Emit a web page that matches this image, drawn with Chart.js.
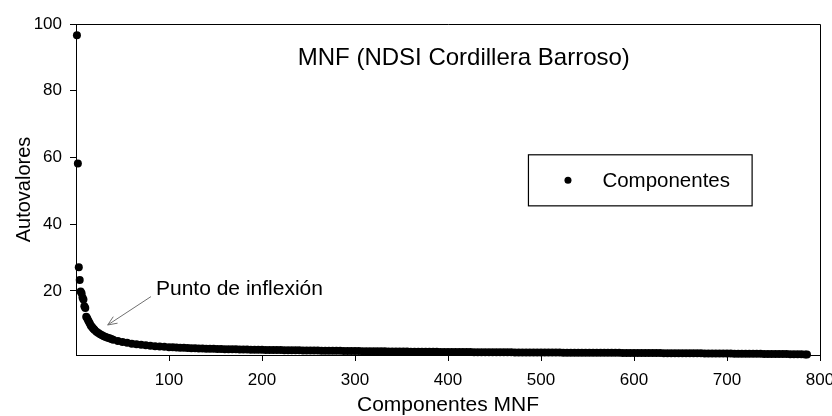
<!DOCTYPE html>
<html>
<head>
<meta charset="utf-8">
<script src="https://cdn.jsdelivr.net/npm/chart.js@4.4.1/dist/chart.umd.min.js"></script>
<style>
  html,body{margin:0;padding:0;background:#fff;}
  #wrap{width:832px;height:416px;}
</style>
</head>
<body>
<div id="wrap"><canvas id="mnfChart" width="832" height="416"></canvas></div>
<script>
// MNF eigenvalues - numero de componente (x) y autovalor (y)
const componentes = [
  1,2,3,4,5,6,7,8,9,10,11,12,13,14,15,16,17,18,19,20,
  22,24,26,28,30,32,34,36,38,40,45,50,55,60,65,70,75,80,85,90,95,100,
  104,108,112,116,120,124,128,132,136,140,144,148,152,156,160,164,168,172,176,180,
  184,188,192,196,200,204,208,212,216,220,224,228,232,236,240,244,248,252,256,260,
  264,268,272,276,280,284,288,292,296,300,304,308,312,316,320,324,328,332,336,340,
  344,348,352,356,360,364,368,372,376,380,384,388,392,396,400,404,408,412,416,420,
  424,428,432,436,440,444,448,452,456,460,464,468,472,476,480,484,488,492,496,500,
  504,508,512,516,520,524,528,532,536,540,544,548,552,556,560,564,568,572,576,580,
  584,588,592,596,600,604,608,612,616,620,624,628,632,636,640,644,648,652,656,660,
  664,668,672,676,680,684,688,692,696,700,704,708,712,716,720,724,728,732,736,740,
  744,748,752,756,760,764,768,772,776,780,784,786
];
const autovalores = [
  96.6,58.2,27.1,23.3,19.8,19.3,18.0,17.4,15.4,14.9,12.3,11.8,11.2,10.7,10.2,9.6,9.3,8.9,8.6,8.3,
  7.8,7.4,7.0,6.7,6.4,6.2,6.0,5.8,5.6,5.4,5.0,4.7,4.45,4.2,4.0,3.85,3.7,3.55,3.45,3.35,3.25,3.15,
  3.10,3.05,3.00,2.95,2.90,2.86,2.82,2.78,2.74,2.70,2.67,2.64,2.61,2.58,2.55,2.53,2.51,2.49,2.47,2.45,
  2.43,2.41,2.39,2.37,2.35,2.33,2.32,2.30,2.29,2.27,2.26,2.24,2.23,2.21,2.20,2.18,2.17,2.15,2.14,2.12,
  2.11,2.09,2.08,2.07,2.05,2.04,2.02,2.01,2.00,1.98,1.97,1.96,1.95,1.93,1.92,1.91,1.90,1.89,1.88,1.86,
  1.85,1.84,1.83,1.82,1.81,1.80,1.79,1.78,1.77,1.76,1.75,1.74,1.73,1.72,1.72,1.71,1.70,1.69,1.68,1.67,
  1.67,1.66,1.65,1.64,1.64,1.63,1.62,1.62,1.61,1.60,1.60,1.59,1.58,1.58,1.57,1.57,1.56,1.55,1.55,1.54,
  1.54,1.53,1.53,1.52,1.52,1.51,1.51,1.50,1.50,1.49,1.49,1.48,1.48,1.47,1.47,1.46,1.46,1.45,1.45,1.44,
  1.44,1.43,1.43,1.42,1.42,1.41,1.40,1.40,1.39,1.38,1.38,1.37,1.36,1.36,1.35,1.34,1.33,1.33,1.32,1.31,
  1.30,1.30,1.29,1.28,1.27,1.27,1.26,1.25,1.24,1.23,1.22,1.21,1.20,1.19,1.18,1.17,1.16,1.15,1.14,1.13,
  1.12,1.11,1.10,1.09,1.08,1.07,1.06,1.05,1.03,1.01,0.98,0.95
];
const xTicks = [100,200,300,400,500,600,700,800];
const yTicks = [20,40,60,80,100];

const FONT = "'Liberation Sans', Arial, sans-serif";

// texto, flecha y leyenda dentro del area del grafico
const extras = {
  id:'extras',
  beforeDatasetsDraw(chart){
    const {ctx, chartArea:a} = chart;
    ctx.save();
    ctx.strokeStyle = '#000';
    ctx.lineWidth = 1;
    ctx.beginPath();
    ctx.moveTo(a.left, a.top + 0.5);
    ctx.lineTo(a.right + 0.5, a.top + 0.5);
    ctx.lineTo(a.right + 0.5, a.bottom);
    ctx.stroke();
    ctx.restore();
  },
  afterDraw(chart){
    const {ctx} = chart;
    const xs = chart.scales.x, ys = chart.scales.y;
    const px = v => xs.getPixelForValue(v), py = v => ys.getPixelForValue(v);
    ctx.save();
    ctx.fillStyle = '#000';
    ctx.textBaseline = 'alphabetic';

    ctx.font = '24px ' + FONT;
    ctx.textAlign = 'center';
    ctx.fillText('MNF (NDSI Cordillera Barroso)', px(417), py(87.7));

    ctx.font = '21px ' + FONT;
    ctx.textAlign = 'left';
    ctx.fillText('Punto de inflexión', px(86), py(18.8));

    // flecha
    const x0 = px(80.6), y0 = py(18.3), x1 = px(34.1), y1 = py(9.8);
    const ang = Math.atan2(y1 - y0, x1 - x0);
    ctx.strokeStyle = '#707070';
    ctx.lineWidth = 1;
    ctx.beginPath();
    ctx.moveTo(x0, y0); ctx.lineTo(x1, y1);
    ctx.moveTo(x1, y1); ctx.lineTo(x1 - 10*Math.cos(ang - 0.4), y1 - 10*Math.sin(ang - 0.4));
    ctx.moveTo(x1, y1); ctx.lineTo(x1 - 10*Math.cos(ang + 0.4), y1 - 10*Math.sin(ang + 0.4));
    ctx.stroke();

    // leyenda
    const bx0 = px(486.5), bx1 = px(727), by0 = py(60.8), by1 = py(45.5);
    ctx.strokeStyle = '#000';
    ctx.lineWidth = 1.2;
    ctx.strokeRect(bx0, by0, bx1 - bx0, by1 - by0);
    const dy = (by0 + by1) / 2;
    ctx.beginPath();
    ctx.arc(px(529), dy, 3.5, 0, Math.PI*2);
    ctx.fill();
    ctx.font = '20.5px ' + FONT;
    ctx.textBaseline = 'middle';
    ctx.fillText('Componentes', px(566), dy + 1);
    ctx.restore();
  }
};

const puntos = componentes.map((c, i) => ({x:c, y:autovalores[i]}));

new Chart(document.getElementById('mnfChart'), {
  type:'scatter',
  data:{datasets:[{
    label:'Componentes',
    data:puntos,
    pointRadius:4,
    pointBackgroundColor:'#000',
    pointBorderWidth:0,
    clip:false
  }]},
  options:{
    responsive:false,
    animation:false,
    layout:{padding:{top:24, right:12, left:0, bottom:0}},
    plugins:{legend:{display:false}, tooltip:{enabled:false}},
    scales:{
      x:{
        type:'linear', min:0, max:800,
        afterBuildTicks:s => { s.ticks = xTicks.map(v => ({value:v})); },
        afterFit:s => { s.height = 61; s.paddingLeft = 0; s.paddingRight = 0; },
        grid:{drawOnChartArea:false, tickLength:6, color:'#000'},
        border:{color:'#000', width:1},
        ticks:{color:'#000', font:{family:FONT, size:17}, padding:9, maxRotation:0},
        title:{display:true, text:'Componentes MNF', color:'#000', font:{family:FONT, size:21, lineHeight:1}, padding:{top:0, bottom:0}}
      },
      y:{
        type:'linear', min:0.8, max:100,
        afterBuildTicks:s => { s.ticks = yTicks.map(v => ({value:v})); },
        afterFit:s => { s.width = 76; s.paddingTop = 0; s.paddingBottom = 0; },
        grid:{drawOnChartArea:false, tickLength:6, color:'#000'},
        border:{color:'#000', width:1},
        ticks:{color:'#000', font:{family:FONT, size:17}, padding:8},
        title:{display:true, text:'Autovalores', color:'#000', font:{family:FONT, size:20}, padding:{top:12, bottom:0}}
      }
    }
  },
  plugins:[extras]
});
</script>
</body>
</html>
